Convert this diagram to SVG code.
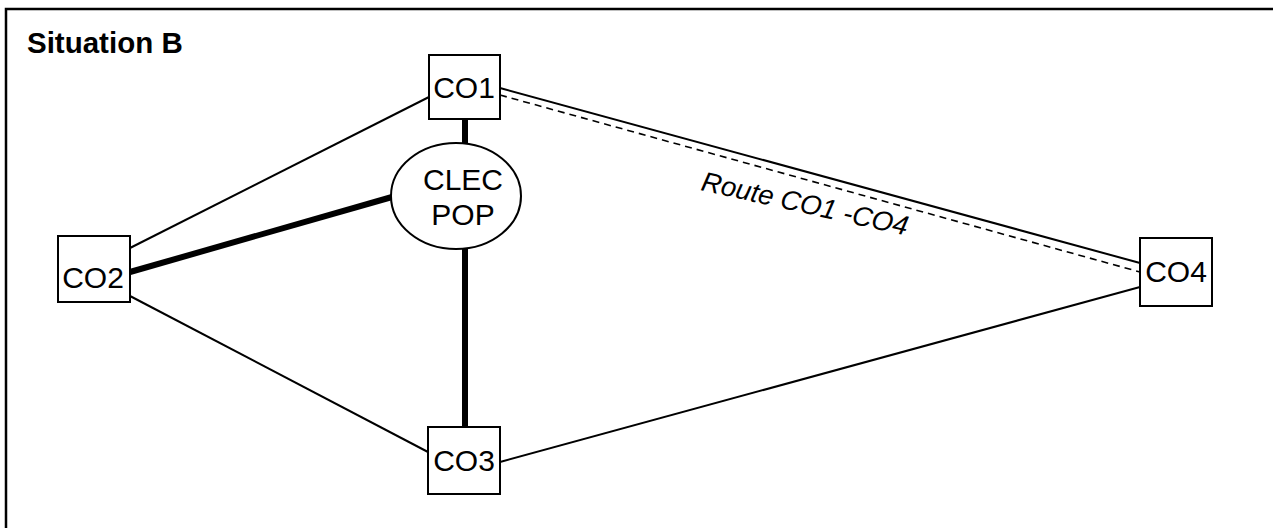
<svg xmlns="http://www.w3.org/2000/svg" width="1273" height="528" viewBox="0 0 1273 528">
<style>
.box{fill:#fff;stroke:#000;stroke-width:2}
.lbl{font-family:"Liberation Sans",Arial,sans-serif;font-size:30px;fill:#000;text-anchor:middle}
.thin{stroke:#000;stroke-width:2;fill:none}
.thick{stroke:#000;stroke-width:6;fill:none}
.dash{stroke:#000;stroke-width:1.6;stroke-dasharray:7 5;fill:none}
</style>
<rect width="1273" height="528" fill="#fff"/>
<path d="M6 528 V9 H1273" fill="none" stroke="#000" stroke-width="2.5"/>
<text x="27" y="53" font-family="'Liberation Sans',Arial,sans-serif" font-size="29.5" font-weight="bold">Situation B</text>
<g id="connectors">
<line class="thin" x1="130" y1="248" x2="429" y2="97"/>
<line class="thin" x1="130" y1="296" x2="428" y2="452"/>
<line class="thin" x1="500" y1="88" x2="1140" y2="263"/>
<line class="dash" x1="500" y1="95" x2="1140" y2="272"/>
<line class="thin" x1="500" y1="462" x2="1140" y2="287"/>
<line class="thick" x1="130" y1="272" x2="392" y2="197"/>
<line class="thick" x1="465" y1="119" x2="465" y2="143" stroke-width="5"/>
<line class="thick" x1="465" y1="249" x2="465" y2="427" stroke-width="5"/>
<text transform="rotate(12.5 700 190)" x="700" y="190" font-family="'Liberation Sans',Arial,sans-serif" font-size="27.5" font-style="italic">Route CO1 -CO4</text>
</g>
<g id="CO1"><rect class="box" x="429" y="55" width="71" height="64"/><text class="lbl" x="464" y="98">CO1</text></g>
<g id="CO2"><rect class="box" x="58" y="236" width="72" height="66"/><text class="lbl" x="93" y="288">CO2</text></g>
<g id="CO3"><rect class="box" x="428" y="427" width="72" height="67"/><text class="lbl" x="464" y="471">CO3</text></g>
<g id="CO4"><rect class="box" x="1140" y="238" width="72" height="68"/><text class="lbl" x="1176" y="282">CO4</text></g>
<g id="CLEC_POP"><ellipse class="box" cx="456" cy="196" rx="65" ry="53"/><text class="lbl" x="463" y="190">CLEC</text><text class="lbl" x="463" y="225">POP</text></g>
</svg>
